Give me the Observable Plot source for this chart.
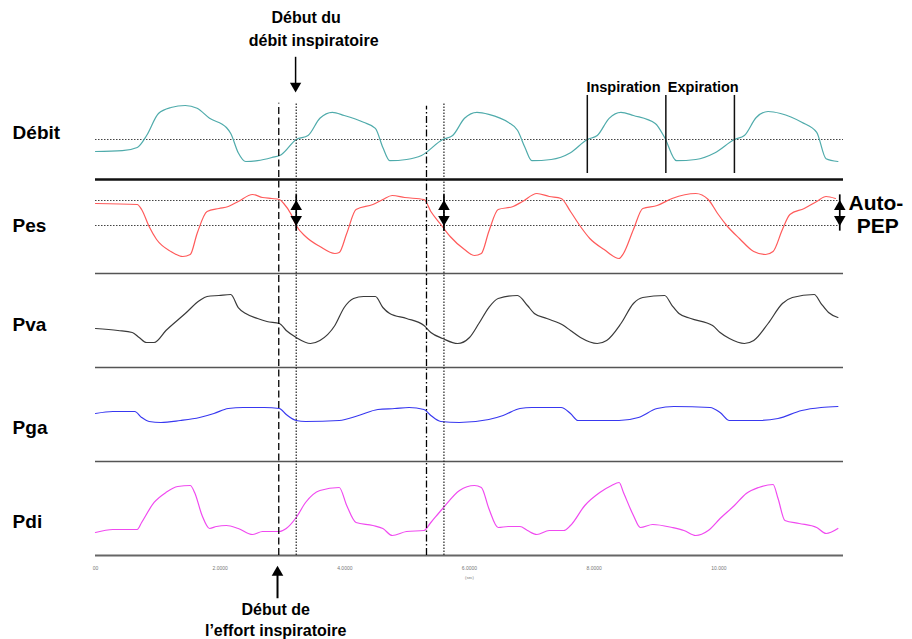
<!DOCTYPE html>
<html><head><meta charset="utf-8">
<script src="https://cdn.jsdelivr.net/npm/d3@7"></script>
<script src="https://cdn.jsdelivr.net/npm/@observablehq/plot@0.6"></script>
<style>body{margin:0;background:#fff} svg{display:block}</style>
</head><body><div id="chart"></div>
<script>
// ---- Data (time in s, signals in their own units) ----
const debitT = [0,0.43,0.67,0.82,1.01,1.21,1.44,1.63,1.83,2.10,2.17,2.29,2.41,2.60,2.83,2.98,3.22,3.41,3.60,3.80,3.99,4.30,4.49,4.61,4.72,4.99,5.23,5.57,5.73,5.92,6.12,6.31,6.62,6.77,6.89,7.00,7.31,7.62,7.89,8.05,8.24,8.43,8.63,8.98,9.13,9.32,9.63,9.94,10.25,10.41,10.60,10.79,10.99,11.33,11.57,11.72,11.91];
const debitV = [-0.30,-0.28,-0.20,0.10,0.65,0.80,0.85,0.78,0.53,0.30,0.15,-0.33,-0.55,-0.53,-0.45,-0.38,0,0.10,0.53,0.68,0.60,0.43,0.28,-0.20,-0.53,-0.50,-0.40,0,0.10,0.53,0.68,0.63,0.43,0.23,-0.20,-0.53,-0.50,-0.33,0,0.10,0.53,0.68,0.60,0.40,0.05,-0.53,-0.50,-0.33,0,0.10,0.55,0.70,0.65,0.43,0.18,-0.48,-0.55];

const pesT = [0,0.67,0.74,0.86,0.98,1.21,1.40,1.52,1.63,1.79,1.98,2.13,2.29,2.52,2.68,2.83,2.95,3.02,3.14,3.22,3.37,3.60,3.84,3.91,4.03,4.18,4.45,4.61,4.76,4.96,5.27,5.38,5.54,5.69,5.92,6.08,6.19,6.31,6.46,6.70,6.85,7.08,7.28,7.47,7.62,7.78,7.93,8.16,8.40,8.47,8.63,8.78,9.01,9.25,9.63,9.83,9.98,10.14,10.33,10.56,10.75,10.87,11.02,11.14,11.37,11.57,11.72,11.87];
const pesV = [4.4,4.2,3.2,-0.2,-2.8,-5.2,-6.2,-5.8,-1.6,2.8,3.4,3.8,4.8,6.2,5.6,5.4,5.2,4.4,2.2,0,-2.2,-4.2,-5.6,-5.4,-1.6,3.2,4.2,5.2,6.0,5.6,5.2,2.8,0.2,-2.2,-4.8,-6.0,-5.6,-1.2,3.2,3.8,4.8,6.4,5.8,5.4,2.8,-0.2,-2.6,-4.8,-6.6,-5.6,-0.8,3.4,4.0,5.4,6.4,5.2,2.4,-0.2,-2.6,-5.2,-5.8,-5.2,-0.8,2.2,3.4,4.8,5.8,5.4];

const pvaT = [0,0.36,0.59,0.70,0.82,0.94,1.13,1.44,1.67,1.79,1.98,2.17,2.29,2.41,2.60,2.75,2.95,3.06,3.22,3.45,3.60,3.84,3.99,4.14,4.30,4.49,4.61,4.72,4.99,5.27,5.38,5.57,5.81,6.00,6.15,6.31,6.46,6.77,6.93,7.04,7.24,7.51,7.62,7.78,8.05,8.20,8.43,8.63,8.78,9.13,9.25,9.36,9.55,9.90,10.02,10.17,10.41,10.56,10.79,11.02,11.18,11.53,11.64,11.76,11.91];
const pvaV = [3.75,3.25,2.75,1.5,0.25,0.25,3.25,7.5,10.75,11.75,12,12.25,9,7.5,6.25,5.5,5,3.25,1.5,0,0.75,4.5,9,11.25,11.75,11.75,9,7.5,6.25,4.5,2.75,1.25,0,1.5,5,9,11.25,12,9.5,7.5,6.25,4.5,3.25,1.5,0,0.75,5,10,11.5,12,9.5,7.5,6.25,4.5,2.75,1.25,0,0.75,5,10,11.5,12.25,10,7.75,6.5];

const pgaT = [0,0.28,0.63,0.74,0.86,1.05,1.36,1.67,1.90,2.13,2.37,2.71,2.95,3.06,3.22,3.37,3.91,4.22,4.53,4.80,5.03,5.27,5.38,5.54,5.84,6.31,6.54,6.81,7.00,7.47,7.62,7.74,8.40,8.71,9.01,9.28,9.86,10.02,10.17,10.64,10.95,11.33,11.64,11.91];
const pgaV = [4.5,5.5,5.5,2.5,0.5,0,1,2.5,4.5,7,7.5,7.5,7,4,1,0.5,1,3.5,6.5,7,7.5,6.5,3.5,0.5,0,1.5,3.5,7,7.5,7.5,4.5,1,1,2.5,7,8,7.5,5,1,1,2,6,7.5,8];

const pdiT = [0,0.28,0.67,0.74,0.94,1.13,1.32,1.52,1.59,1.71,1.83,1.94,2.10,2.29,2.52,2.68,2.95,3.06,3.22,3.37,3.60,3.91,4.03,4.18,4.45,4.61,4.76,4.99,5.27,5.38,5.57,5.84,6.08,6.19,6.31,6.46,6.62,6.81,6.93,7.08,7.28,7.51,7.62,7.85,8.09,8.28,8.40,8.47,8.63,8.74,8.94,9.25,9.44,9.63,9.83,10.02,10.25,10.44,10.64,10.87,10.95,11.06,11.29,11.57,11.72,11.91];
const pdiV = [1.2,2.4,2.4,5.2,13.2,17.2,19.6,20,17.2,8,2.8,3.6,4,2.8,0.4,1.6,1.6,2.8,7.2,13.2,18,19.2,12,5.2,4,2.8,0,1.6,2,5.2,10.8,18,20,19.2,10.8,3.2,3.6,3.6,2,0.4,2,2,4,12,17.2,20,21.2,17.2,8,3.2,4.4,3.2,2,0,2,6.8,12,16.8,19.2,20.4,14.8,6,4.8,3.2,0.8,2.8];

const panelNames = ["Débit", "Pes", "Pva", "Pga", "Pdi"];
const effortStart = [2.94, 5.31];     // début de l'effort inspiratoire
const flowStart = [3.22, 5.59];       // début du débit inspiratoire
const phaseTimes = [7.89, 9.15, 10.25]; // inspiration / expiration markers
const pesLevels = [5, 0];             // Pes at end-expiration vs. at flow onset (auto-PEP)
const tickValues = [0, 2, 4, 6, 8, 10];
const tickLabels = ["00", "2.0000", "4.0000", "6.0000", "8.0000", "10.000"];

// ---- Layout (panel placement in panel units, colours) ----
const layout = {
  "Débit": {base: 4.4255, gain: 0.4255, color: "#4fabab", T: debitT, V: debitV, labelU: 4.50},
  "Pes":   {base: 3.5106, gain: 0.05319, color: "#ff5a5a", T: pesT, V: pesV, labelU: 3.51},
  "Pva":   {base: 2.2553, gain: 0.04255, color: "#3a3a3a", T: pvaT, V: pvaV, labelU: 2.45},
  "Pga":   {base: 1.4149, gain: 0.02128, color: "#3838f0", T: pgaT, V: pgaV, labelU: 1.36},
  "Pdi":   {base: 0.2128, gain: 0.0266, color: "#f04af0", T: pdiT, V: pdiV, labelU: 0.36}
};
const yOf = (name, v) => layout[name].base + v * layout[name].gain;
const rows = name => layout[name].T.map((t, i) => ({t, y: yOf(name, layout[name].V[i])}));

const tEnd = 11.94;
const vTop = 4.81;
const pesHi = yOf("Pes", pesLevels[0]), pesLo = yOf("Pes", pesLevels[1]);
const pepArrowT = [...flowStart, tEnd];

const bold = {fontWeight: "bold", fill: "#000"};
const marks = [
  // panel separators & time axis line
  Plot.ruleY([1, 2, 3], {stroke: "#555", strokeWidth: 1.5}),
  Plot.ruleY([0], {stroke: "#666", strokeWidth: 2}),
  Plot.ruleY([4], {stroke: "#111", strokeWidth: 2.5}),
  // reference dotted lines
  Plot.ruleY([{y: yOf("Débit", 0)}], {y: "y", x1: () => 0, x2: () => 12, stroke: "#444", strokeWidth: 1.2, strokeDasharray: "1.5,1.5"}),
  Plot.ruleY([pesHi, pesLo], {x1: () => 0, x2: () => tEnd, stroke: "#444", strokeWidth: 1.2, strokeDasharray: "1.5,1.5"}),
  // signals
  ...panelNames.map(n => Plot.line(rows(n), {x: "t", y: "y", stroke: layout[n].color, strokeWidth: 1.2, curve: "monotone-x"})),
  // event verticals
  Plot.ruleX([effortStart[0]], {y1: 0, y2: vTop, stroke: "#000", strokeWidth: 1.3, strokeDasharray: "7,3.5"}),
  Plot.ruleX([effortStart[1]], {y1: 0, y2: vTop - 0.03, stroke: "#000", strokeWidth: 1.3, strokeDasharray: "7,2.5,1.5,2.5"}),
  Plot.ruleX(flowStart, {y1: 0, y2: vTop, stroke: "#222", strokeWidth: 1.2, strokeDasharray: "1.5,1.5"}),
  Plot.ruleX(phaseTimes, {y1: 4.064, y2: 4.894, stroke: "#111", strokeWidth: 1.5}),
  // auto-PEP double arrows
  Plot.ruleX(pepArrowT, {y1: pesLo - 0.06, y2: pesHi + 0.06, stroke: "#000", strokeWidth: 1.7}),
  Plot.dot(pepArrowT, {x: d => d, y: () => pesHi, symbol: "triangle", r: 4.3, fill: "#000", stroke: null, dy: 6.2}),
  Plot.dot(pepArrowT, {x: d => d, y: () => pesLo, symbol: "triangle", r: 4.3, fill: "#000", stroke: null, rotate: 180, dy: -6.2}),
  // annotation arrows
  Plot.ruleX([flowStart[0] - 0.01], {y1: 5.30, y2: 4.99, stroke: "#000", strokeWidth: 1.5}),
  Plot.dot([flowStart[0] - 0.01], {x: d => d, y: () => 4.93, symbol: "triangle", r: 4.2, fill: "#000", stroke: null, rotate: 180, dy: -6}),
  Plot.ruleX([effortStart[0] - 0.02], {y1: -0.46, y2: -0.17, stroke: "#000", strokeWidth: 2}),
  Plot.dot([effortStart[0] - 0.02], {x: d => d, y: () => -0.115, symbol: "triangle", r: 4.3, fill: "#000", stroke: null, dy: 6.2}),
  // panel labels
  Plot.text(panelNames, {x: () => -1.33, y: n => layout[n].labelU, text: d => d, textAnchor: "start", fontSize: 19, ...bold}),
  // annotation texts
  Plot.text(["Début du", "débit inspiratoire"], {x: [3.38, 3.50], y: [5.72, 5.48], text: d => d, fontSize: 16, ...bold}),
  Plot.text(["Début de", "l’effort inspiratoire"], {x: [2.89, 2.89], y: [-0.575, -0.80], text: d => d, fontSize: 16, ...bold}),
  Plot.text(["Inspiration", "Expiration"], {x: [8.47, 9.75], y: [4.985, 4.985], text: d => d, fontSize: 14.5, ...bold}),
  Plot.text(["Auto-", "PEP"], {x: [12.52, 12.55], y: [3.745, 3.50], text: d => d, fontSize: 21, ...bold}),
  // time axis
  Plot.axisX({ticks: tickValues, tickFormat: d => tickLabels[tickValues.indexOf(d)], tickSize: 0, tickPadding: 11, fontSize: 5, color: "#777", label: null}),
  Plot.text(["(sec)"], {x: () => 6, y: () => -0.235, text: d => d, fontSize: 4, fill: "#777"})
];

const chart = Plot.plot({
  width: 912, height: 639,
  marginLeft: 95, marginRight: 69, marginTop: 85, marginBottom: 84,
  x: {domain: [0, 12]},
  y: {domain: [0, 5], axis: null},
  style: {fontFamily: "'Liberation Sans', Arial, sans-serif", background: "#fff", overflow: "visible"},
  marks
});
document.getElementById("chart").append(chart);
</script>
</body></html>
